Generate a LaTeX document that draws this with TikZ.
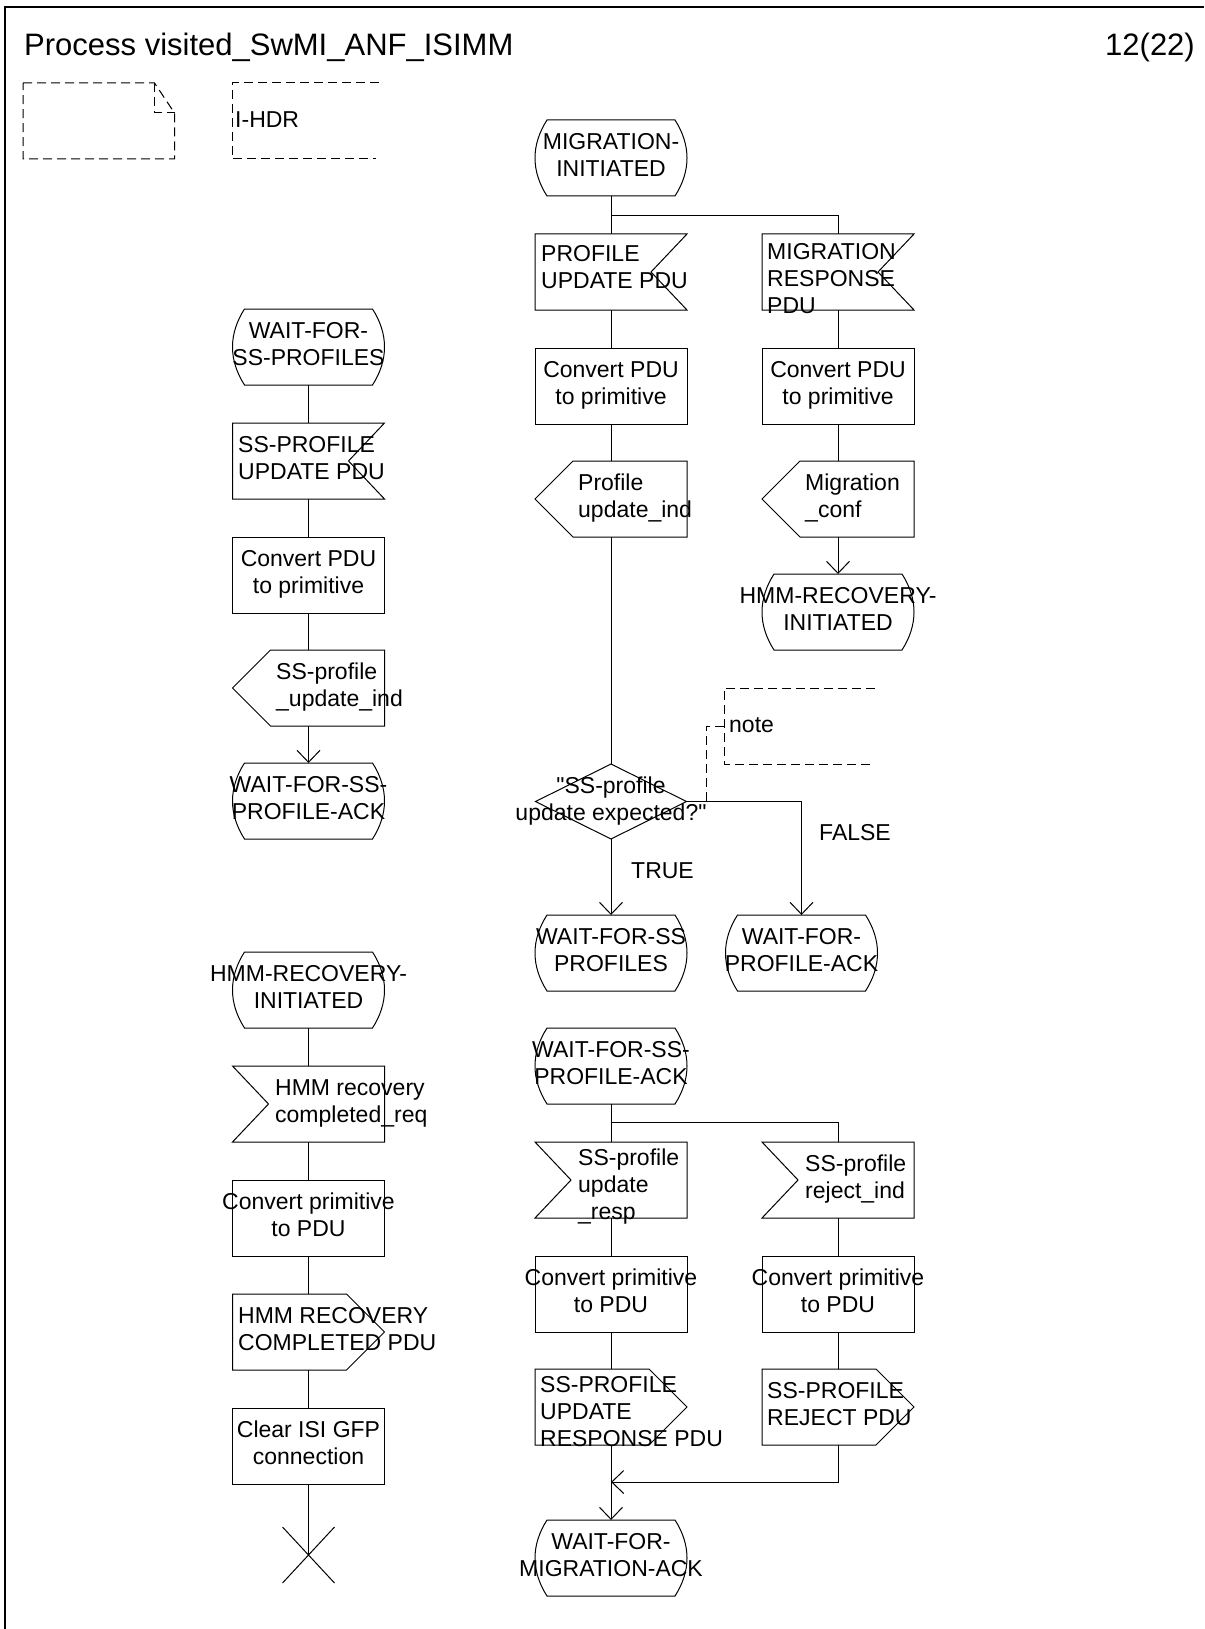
\documentclass[tikz,border=0pt]{standalone}
\usepackage{fontspec}
\setmainfont{Liberation Sans}[Ligatures=TeXOff]
\usetikzlibrary{arrows.meta,calc}
\tikzset{
  frm/.style={rectangle, minimum width=152pt, minimum height=76pt, inner sep=0pt, outer sep=0pt},
  taskbox/.style={frm, draw, line width=1pt},
  dframe/.style={rectangle, minimum width=151pt, minimum height=75pt, inner sep=0pt, outer sep=0pt},
  lbl/.style={inner sep=0pt, font=\fontsize{23}{27}\selectfont},
  ctext/.style={lbl, align=center},
  ltext/.style={lbl, align=left, anchor=west},
  conn/.style={draw, line width=1pt},
  arr/.style={conn, -{Straight Barb[length=12pt,width=23pt,line width=1pt]}},
  dsh/.style={draw, line width=1pt, dash pattern=on 9pt off 5pt},
  outl/.style={draw, line width=1pt},
}
\newcommand\sdlState[1]{\draw[outl] ($(#1.north west)+(12,0)$) -- ($(#1.north east)+(-12,0)$)
  .. controls ($(#1.north east)+(4,25)$) and ($(#1.south east)+(4,-25)$) .. ($(#1.south east)+(-12,0)$)
  -- ($(#1.south west)+(12,0)$)
  .. controls ($(#1.south west)+(-4,-25)$) and ($(#1.north west)+(-4,25)$) .. ($(#1.north west)+(12,0)$) -- cycle;}
\newcommand\sdlInR[1]{\draw[outl] (#1.north west) -- (#1.north east) -- ($(#1.east)+(-36,0)$) -- (#1.south east) -- (#1.south west) -- cycle;}
\newcommand\sdlInL[1]{\draw[outl] (#1.north west) -- (#1.north east) -- (#1.south east) -- (#1.south west) -- ($(#1.west)+(36,0)$) -- cycle;}
\newcommand\sdlOutL[1]{\draw[outl] ($(#1.north west)+(38,0)$) -- (#1.north east) -- (#1.south east) -- ($(#1.south west)+(38,0)$) -- (#1.west) -- cycle;}
\newcommand\sdlOutR[1]{\draw[outl] (#1.north west) -- ($(#1.north east)+(-38,0)$) -- (#1.east) -- ($(#1.south east)+(-38,0)$) -- (#1.south west) -- cycle;}
\begin{document}
\begin{tikzpicture}[x=1pt,y=-1pt]
\useasboundingbox (0,0) rectangle (1204,1629);
% frame
\draw[line width=1.3pt] (5,1629) -- (5,7) -- (1204,7);
\node[anchor=base west, inner sep=0pt, font=\fontsize{31}{37}\selectfont] (title) at (24,56) {Process visited\_SwMI\_ANF\_ISIMM};
\node[anchor=base east, inner sep=0pt, font=\fontsize{31}{37}\selectfont] (page) at (1195,56) {12(22)};
% text symbol top-left
\draw[dsh] (23,83) -- (154.5,83) -- (174.5,113) -- (174.5,159) -- (23,159) -- cycle;
\draw[dsh] (154.5,83) -- (154.5,113) -- (174.5,113);
\draw[dsh] (379,83) -- (232,83) -- (232,159) -- (376,159);
\node[ltext] (ihdr) at (235,120) {I-HDR};

% ---------- left column ----------
\node[frm] (L1) at (308.5,347) {}; \sdlState{L1}
\node[ctext] (L1t) at (L1) {\strut WAIT-FOR-\\\strut SS-PROFILES};
\node[frm] (L2) at (308.5,461) {}; \sdlInR{L2}
\node[ltext] (L2t) at (238,461) {\strut SS-PROFILE\\\strut UPDATE PDU};
\node[taskbox] (L3) at (308.5,575) {};
\node[ctext] (L3t) at (L3) {\strut Convert PDU\\\strut to primitive};
\node[frm] (L4) at (308.5,688) {}; \sdlOutL{L4}
\node[ltext] (L4t) at (276,688) {\strut SS-profile\\\strut \_update\_ind};
\node[frm] (L5) at (308.5,801) {}; \sdlState{L5}
\node[ctext] (L5t) at (L5) {\strut WAIT-FOR-SS-\\\strut PROFILE-ACK};

\node[frm] (L6) at (308.5,990) {}; \sdlState{L6}
\node[ctext] (L6t) at (L6) {\strut HMM-RECOVERY-\\\strut INITIATED};
\node[frm] (L7) at (308.5,1104) {}; \sdlInL{L7}
\node[ltext] (L7t) at (275,1104) {\strut HMM recovery\\\strut completed\_req};
\node[taskbox] (L8) at (308.5,1218) {};
\node[ctext] (L8t) at (L8) {\strut Convert primitive\\\strut to PDU};
\node[frm] (L9) at (308.5,1332) {}; \sdlOutR{L9}
\node[ltext] (L9t) at (238,1332) {\strut HMM RECOVERY\\\strut COMPLETED PDU};
\node[taskbox] (L10) at (308.5,1446) {};
\node[ctext] (L10t) at (L10) {\strut Clear ISI GFP\\\strut connection};
\coordinate (stopx) at (308.5,1555);

\draw[conn] (L1.south) -- (L2.north);
\draw[conn] (L2.south) -- (L3.north);
\draw[conn] (L3.south) -- (L4.north);
\draw[arr] (L4.south) -- (L5.north);
\draw[conn] (L6.south) -- (L7.north);
\draw[conn] (L7.south) -- (L8.north);
\draw[conn] (L8.south) -- (L9.north);
\draw[conn] (L9.south) -- (L10.north);
\draw[conn] (L10.south) -- (stopx);
\draw[conn] ($(stopx)+(-26,-28)$) -- ($(stopx)+(26,28)$);
\draw[conn] ($(stopx)+(26,-28)$) -- ($(stopx)+(-26,28)$);

% ---------- middle / right columns ----------
\node[frm] (M1) at (611,158) {}; \sdlState{M1}
\node[ctext] (M1t) at (M1) {\strut MIGRATION-\\\strut INITIATED};
\node[frm] (M2) at (611,272) {}; \sdlInR{M2}
\node[ltext] (M2t) at (541,270) {\strut PROFILE\\\strut UPDATE PDU};
\node[taskbox] (M3) at (611,386) {};
\node[ctext] (M3t) at (M3) {\strut Convert PDU\\\strut to primitive};
\node[frm] (M4) at (611,499) {}; \sdlOutL{M4}
\node[ltext] (M4t) at (578,499) {\strut Profile\\\strut update\_ind};

\node[frm] (R2) at (838,272) {}; \sdlInR{R2}
\node[ltext] (R2t) at (767,281) {\strut MIGRATION\\\strut RESPONSE\\\strut PDU};
\node[taskbox] (R3) at (838,386) {};
\node[ctext] (R3t) at (R3) {\strut Convert PDU\\\strut to primitive};
\node[frm] (R4) at (838,499) {}; \sdlOutL{R4}
\node[ltext] (R4t) at (805,499) {\strut Migration\\\strut \_conf};
\node[frm] (R5) at (838,612) {}; \sdlState{R5}
\node[ctext] (R5t) at (R5) {\strut HMM-RECOVERY-\\\strut INITIATED};

\coordinate (b1) at (611,216);
\draw[conn] (M1.south) -- (M2.north);
\draw[conn] (b1) -| (R2.north);
\draw[conn] (M2.south) -- (M3.north);
\draw[conn] (M3.south) -- (M4.north);
\draw[conn] (R2.south) -- (R3.north);
\draw[conn] (R3.south) -- (R4.north);
\draw[arr] (R4.south) -- (R5.north);

% decision
\node[dframe] (D) at (611,801.5) {};
\draw[outl] (D.north) -- (D.east) -- (D.south) -- (D.west) -- cycle;
\node[ctext] (Dt) at (D) {\strut "SS-profile\\\strut update expected?"};
\draw[conn] (M4.south) -- (D.north);

\node[frm] (M5) at (611,953) {}; \sdlState{M5}
\node[ctext] (M5t) at (M5) {\strut WAIT-FOR-SS\\\strut PROFILES};
\node[frm] (F) at (801.5,953) {}; \sdlState{F}
\node[ctext] (Ft) at (F) {\strut WAIT-FOR-\\\strut PROFILE-ACK};
\draw[arr] (D.south) -- (M5.north);
\draw[arr] (D.east) -| (F.north);
\node[ltext] (truel) at (631,871) {TRUE};
\node[ltext] (falsel) at (819,833) {FALSE};

% comment
\draw[dsh] (875,688) -- (724,688) -- (724,764) -- (872,764);
\node[ltext] (nt) at (729,725) {note};
\coordinate (nc) at (724,726);
\coordinate (ncend) at (706,801);
\draw[dsh] (nc) -- (706,726) -- (ncend);

% lower middle
\node[frm] (M6) at (611,1066) {}; \sdlState{M6}
\node[ctext] (M6t) at (M6) {\strut WAIT-FOR-SS-\\\strut PROFILE-ACK};
\node[frm] (M7) at (611,1180) {}; \sdlInL{M7}
\node[ltext] (M7t) at (578,1187) {\strut SS-profile\\\strut update\\\strut \_resp};
\node[taskbox] (M8) at (611,1294) {};
\node[ctext] (M8t) at (M8) {\strut Convert primitive\\\strut to PDU};
\node[frm] (M9) at (611,1407) {}; \sdlOutR{M9}
\node[ltext] (M9t) at (540,1414) {\strut SS-PROFILE\\\strut UPDATE\\\strut RESPONSE PDU};
\node[frm] (M10) at (611,1558) {}; \sdlState{M10}
\node[ctext] (M10t) at (M10) {\strut WAIT-FOR-\\\strut MIGRATION-ACK};

\node[frm] (R7) at (838,1180) {}; \sdlInL{R7}
\node[ltext] (R7t) at (805,1180) {\strut SS-profile\\\strut reject\_ind};
\node[taskbox] (R8) at (838,1294) {};
\node[ctext] (R8t) at (R8) {\strut Convert primitive\\\strut to PDU};
\node[frm] (R9) at (838,1407) {}; \sdlOutR{R9}
\node[ltext] (R9t) at (767,1407) {\strut SS-PROFILE\\\strut REJECT PDU};

\coordinate (b2) at (611,1122);
\coordinate (mg) at (611,1482);
\draw[conn] (M6.south) -- (M7.north);
\draw[conn] (b2) -| (R7.north);
\draw[conn] (M7.south) -- (M8.north);
\draw[conn] (M8.south) -- (M9.north);
\draw[conn] (R7.south) -- (R8.north);
\draw[conn] (R8.south) -- (R9.north);
\draw[arr] (M9.south) -- (M10.north);
\draw[arr] (R9.south) |- (mg);
\end{tikzpicture}
\end{document}
